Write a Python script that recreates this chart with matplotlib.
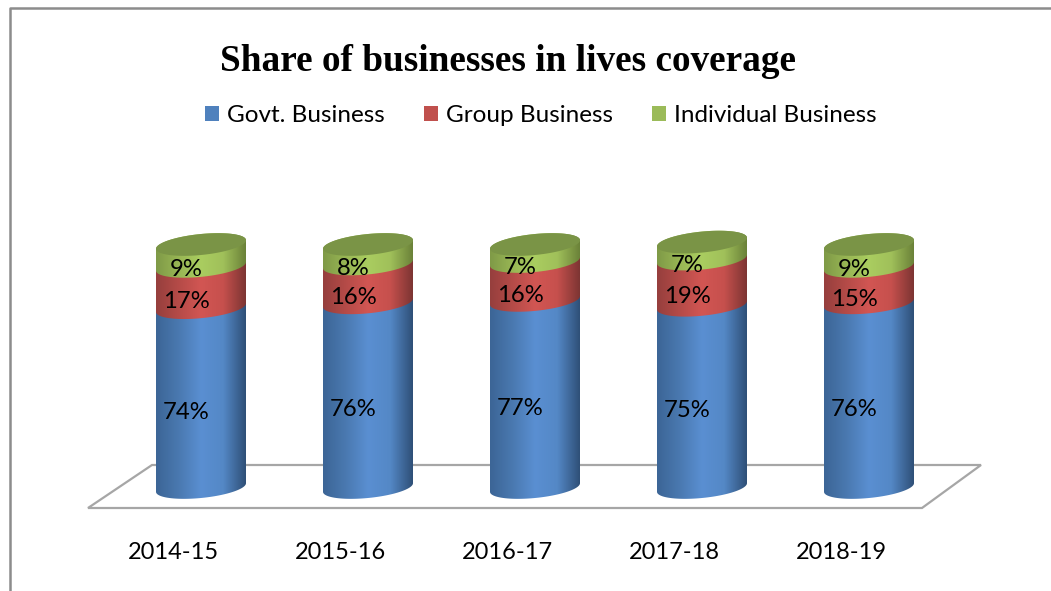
import numpy as np
import matplotlib
matplotlib.use('Agg')
import matplotlib.pyplot as plt
from matplotlib.colors import LinearSegmentedColormap
from matplotlib.lines import Line2D
from matplotlib.patches import Patch, PathPatch, Polygon
from matplotlib.path import Path

years = ['2014-15', '2015-16', '2016-17', '2017-18', '2018-19']
govt = [74, 76, 77, 75, 76]
group = [17, 16, 16, 19, 15]
individual = [9, 8, 7, 7, 9]

series_names = ['Govt. Business', 'Group Business', 'Individual Business']
series_values = [govt, group, individual]
legend_colors = ['#4F81BD', '#C0504D', '#9BBB59']
gradients = [
    ['#3C6596', '#4A79B0', '#5A8FD2', '#5488C6', '#2F5078'],
    ['#963F3D', '#B54B48', '#D25653', '#C6504D', '#7D3533'],
    ['#7F9A47', '#98B654', '#AACD60', '#A0C05A', '#6B8239'],
]
lid_color = '#7A9446'

W, H = 1051, 591
X0, STEP = 201, 167     # pixel x of first cylinder, spacing
Y0, PX_PER_PCT = 487.5, 2.43
AX_BOTTOM = 530

HALF_W = 45 / STEP
ELL_B = 10.5 / PX_PER_PCT
ELL_K = 4.3 / PX_PER_PCT


def fx(px):
    return (px - X0) / STEP


def fy(py):
    return (Y0 - py) / PX_PER_PCT


def rim(cx, level, t):
    return cx + HALF_W * np.cos(t), level + ELL_K * np.cos(t) + ELL_B * np.sin(t)


fig = plt.figure(figsize=(W / 100, H / 100), dpi=100, facecolor='white')
ax = fig.add_axes([0, 1 - AX_BOTTOM / H, 1, AX_BOTTOM / H])
ax.patch.set_visible(False)
for s in ax.spines.values():
    s.set_visible(False)

font = 'Lato'

# floor
floor = [(88, 508), (922, 508), (981, 465), (152, 465)]
ax.add_patch(Polygon([(fx(a), fy(b)) for a, b in floor], closed=True, fill=False,
                     edgecolor='#A6A6A6', linewidth=1.6, zorder=1))

# cylinders
for i in range(len(years)):
    base = 0
    z = 2
    for k, values in enumerate(series_values):
        top = base + values[i]
        t_front = np.linspace(np.pi, 2 * np.pi, 60)
        t_back = np.linspace(0, np.pi, 60)
        xs1, ys1 = rim(i, base, t_front)
        xs2, ys2 = rim(i, top, t_back)
        verts = np.column_stack([np.r_[xs1, xs2], np.r_[ys1, ys2]])
        clip = PathPatch(Path(np.vstack([verts, verts[0]])), transform=ax.transData,
                         facecolor='none', edgecolor='none')
        ax.add_patch(clip)
        cmap = LinearSegmentedColormap.from_list('c', gradients[k])
        im = ax.imshow(np.linspace(0, 1, 128).reshape(1, -1), cmap=cmap, aspect='auto',
                       extent=(i - HALF_W, i + HALF_W, base - 10, top + 10), zorder=z)
        im.set_clip_path(clip)
        z += 1
        # label sits a bit below the middle of its slice, left of the axis
        ax.annotate('%d%%' % values[i], (i, base + values[i] / 2), xytext=(-15 * 0.72, -14.5 * 0.72),
                    textcoords='offset points', ha='center', va='center', fontsize=17.2,
                    family=font, color='black', zorder=10)
        base = top
    # lid
    t = np.linspace(0, 2 * np.pi, 120)
    xs, ys = rim(i, base, t)
    ax.fill(xs, ys, color=lid_color, linewidth=0, zorder=z)

ax.set_xlim(fx(0), fx(W))
ax.set_ylim(fy(AX_BOTTOM), fy(0))
ax.set_yticks([])
ax.set_xticks(np.arange(len(years)) - 28 / STEP)
ax.set_xticklabels(years, fontsize=17, family=font, color='black')
ax.tick_params(axis='x', length=0, pad=8.5)

# chart frame, cropped on the right and at the bottom
fig.add_artist(Line2D([10 / W, 10 / W, 1], [0, 1 - 8 / H, 1 - 8 / H], color='#8C8C8C', linewidth=1.8))

fig.text(508.5 / W, 1 - 61.5 / H, 'Share of businesses in lives coverage', ha='center', va='center',
         family='Liberation Serif', fontweight='bold', fontsize=26.85, color='black')

handles = [Patch(facecolor=c, edgecolor='none') for c in legend_colors]
fig.legend(handles, series_names, loc='center', bbox_to_anchor=(541 / W, 1 - 115.5 / H), ncol=3,
           frameon=False, prop={'family': font, 'size': 17.5}, handlelength=0.58, handleheight=0.58,
           handletextpad=0.33, columnspacing=1.6, borderpad=0)

fig.savefig('out.png', dpi=100)
